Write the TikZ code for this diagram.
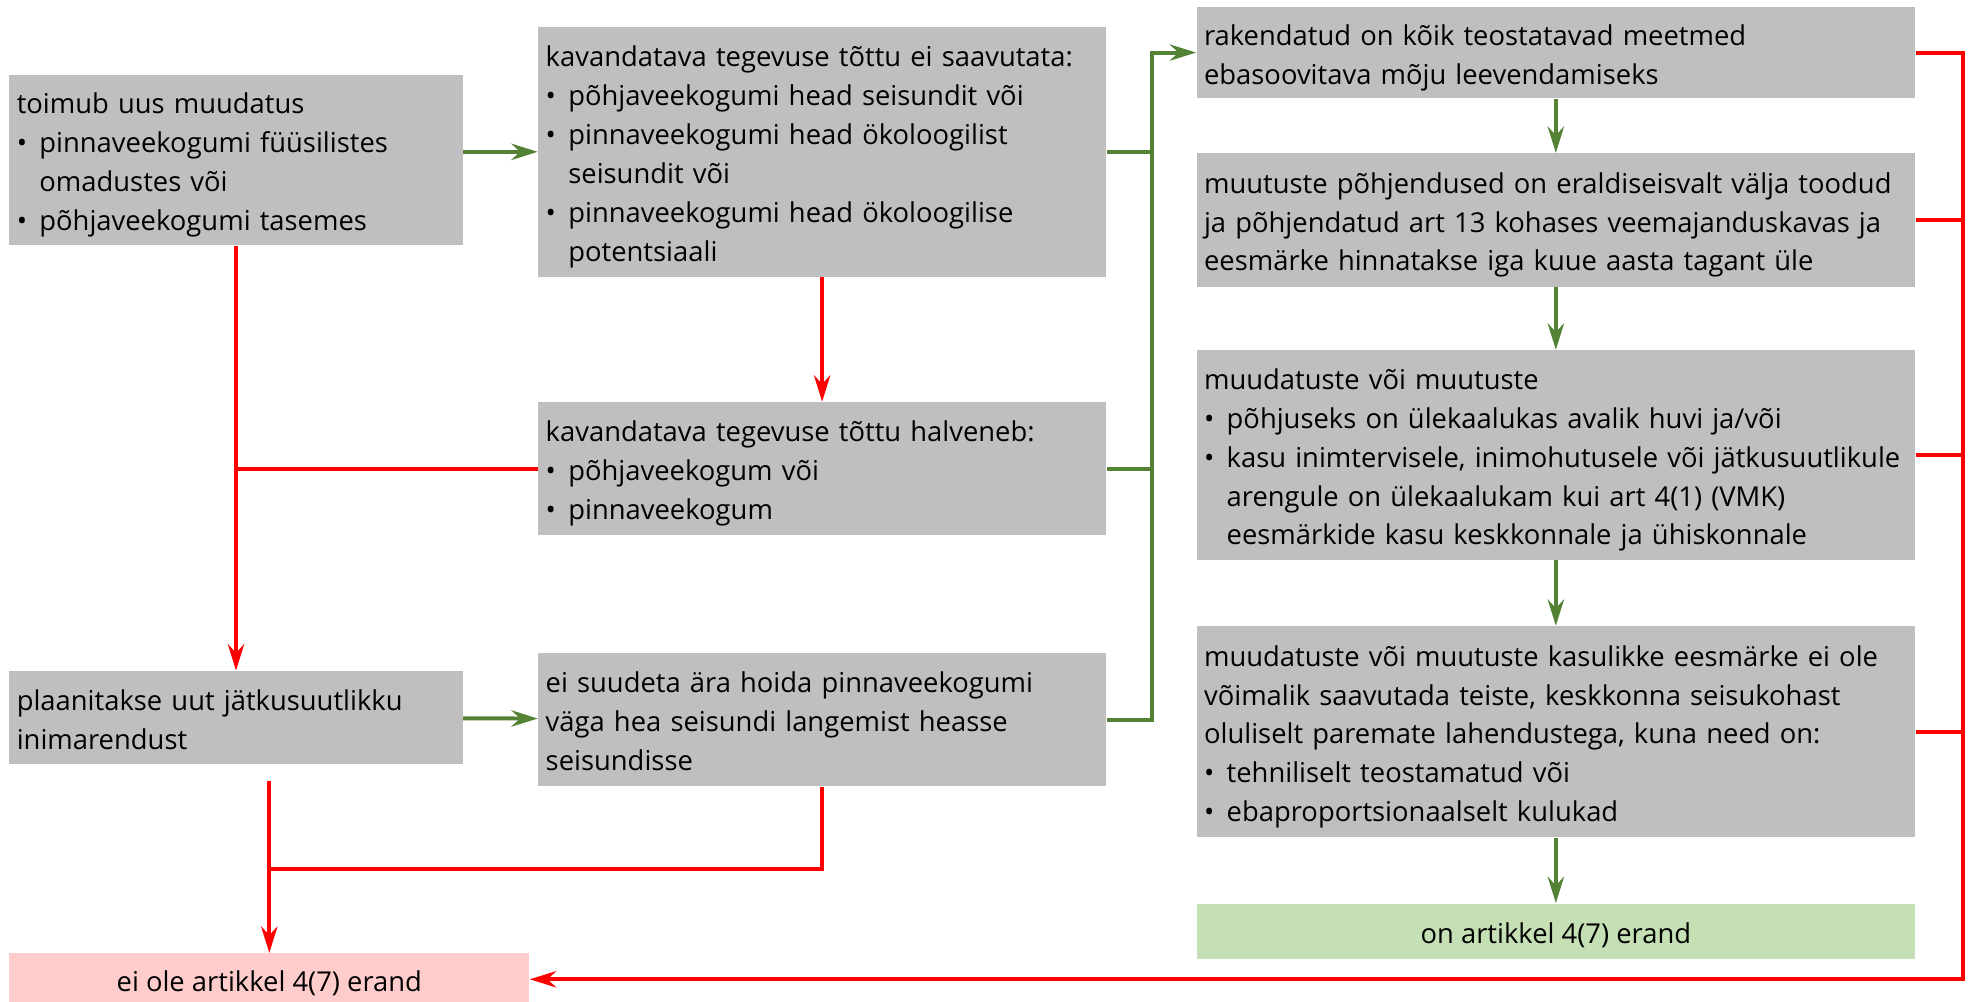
\documentclass[tikz,border=0pt]{standalone}
\usepackage{fontspec}
\setmainfont{Open Sans}
\usepackage{tikz}
\usetikzlibrary{arrows.meta, positioning}
\setlength{\parindent}{0pt}
\definecolor{boxgray}{RGB}{191,191,191}
\definecolor{lgreen}{RGB}{84,130,53}
\definecolor{lred}{RGB}{255,0,0}
\definecolor{errpink}{RGB}{255,204,204}
\definecolor{okgreen}{RGB}{197,224,180}
\newcommand{\bitem}[1]{\par\hangindent=0.36cm\hangafter=1\noindent\makebox[0.36cm][l]{•}#1\rule[-4pt]{0pt}{4pt}\par}

\begin{document}
\begin{tikzpicture}[>={Stealth[length=0.42cm, width=0.26cm, inset=0.14cm]},
	font=\fontsize{12.4}{17.6}\selectfont,
	box/.style={rectangle, fill=boxgray, inner xsep=0.12cm, inner ysep=0.08cm, align=left,
		execute at begin node={\rule{0pt}{15pt}}, execute at end node={\ifhmode\rule[-4pt]{0pt}{4pt}\fi}},
	gline/.style={draw=lgreen, line width=1.8pt, ->},
	rline/.style={draw=lred, line width=1.8pt, ->}]
		\useasboundingbox (0,0) rectangle (31.36,-15.94);
		\node [box, anchor=north west, text width=6.98cm, minimum height=2.72cm] (muud) at (0.14,-1.18) {toimub uus muudatus \bitem{pinnaveekogumi füüsilistes\newline omadustes või} \bitem{põhjaveekogumi tasemes}};
		\node [box, text width=6.98cm, minimum height=1.48cm, below= 6.76cm of muud] (inim) {plaanitakse uut jätkusuutlikku\newline inimarendust};
		\node [box, fill=errpink, minimum width=8.28cm, minimum height=0.8cm, align=center, below= 3cm of inim.south west, anchor=north west] (eiole) {ei ole artikkel 4(7) erand};
		
		\node [box, anchor=north west, text width=8.8cm, minimum height=3.98cm] (eisaav) at (8.56,-0.42) {kavandatava tegevuse tõttu ei saavutata: \bitem{põhjaveekogumi head seisundit või} \bitem{pinnaveekogumi head ökoloogilist\newline seisundit või} \bitem{pinnaveekogumi head ökoloogilise\newline potentsiaali}};
		\node [box, text width=8.8cm, minimum height=2.12cm, below= 1.98cm of eisaav] (halv) {kavandatava tegevuse tõttu halveneb: \bitem{põhjaveekogum või} \bitem{pinnaveekogum}};
		\node [box, text width=8.8cm, minimum height=2.12cm, below= 1.86cm of halv] (eisuud) {ei suudeta ära hoida pinnaveekogumi\newline väga hea seisundi langemist heasse\newline seisundisse};
		
		\node [box, anchor=north west, text width=11.2cm, minimum height=1.46cm] (rak) at (19.04,-0.1) {rakendatud on kõik teostatavad meetmed\newline ebasoovitava mõju leevendamiseks};
		\node [box, text width=11.2cm, minimum height=2.12cm, below= 0.86cm of rak] (pohj) {muutuste põhjendused on eraldiseisvalt välja toodud\newline ja põhjendatud art 13 kohases veemajanduskavas ja\newline eesmärke hinnatakse iga kuue aasta tagant üle};
		\node [box, text width=11.2cm, minimum height=3.34cm, below= 1cm of pohj] (huvi) {muudatuste või muutuste \bitem{põhjuseks on ülekaalukas avalik huvi ja/või} \bitem{kasu inimtervisele, inimohutusele või jätkusuutlikule\newline arengule on ülekaalukam kui art 4(1) (VMK)\newline eesmärkide kasu keskkonnale ja ühiskonnale}};
		\node [box, text width=11.2cm, minimum height=3.36cm, below= 1.04cm of huvi] (kasul) {muudatuste või muutuste kasulikke eesmärke ei ole\newline võimalik saavutada teiste, keskkonna seisukohast\newline oluliselt paremate lahendustega, kuna need on: \bitem{tehniliselt teostamatud või} \bitem{ebaproportsionaalselt kulukad}};
		\node [box, fill=okgreen, minimum width=11.44cm, minimum height=0.88cm, align=center, below= 1.04cm of kasul] (onerand) {on artikkel 4(7) erand};
		
		\draw [gline] (muud.east |- eisaav.west) -- (eisaav.west);
		\draw [gline] (inim) -- (eisuud);
		\draw [rline] (muud) -- (inim);
		\draw [rline, -] (halv.west) -- (halv.west -| muud);
		\draw [rline] (eisaav) -- (halv);
		\draw [rline] (inim.south -| eiole.north) ++(0,-0.26) -- (eiole.north);
		\draw [rline, -] (eisuud.south) |- ([yshift=1.34cm]eiole.north);
		
		\draw [gline, -] (eisaav.east) -- ++(0.72,0);
		\draw [gline, -] (halv.east) -- ++(0.72,0);
		\draw [gline] (eisuud.east) -- ++(0.72,0) |- (rak.west);
		\draw [gline] (rak) -- (pohj);
		\draw [gline] (pohj) -- (huvi);
		\draw [gline] (huvi) -- (kasul);
		\draw [gline] (kasul) -- (onerand);
		
		\draw [rline] (rak.east) -- ++(0.75,0) |- (eiole.east);
		\draw [rline, -] (pohj.east) -- ++(0.75,0);
		\draw [rline, -] (huvi.east) -- ++(0.75,0);
		\draw [rline, -] (kasul.east) -- ++(0.75,0);
	\end{tikzpicture}
\end{document}
